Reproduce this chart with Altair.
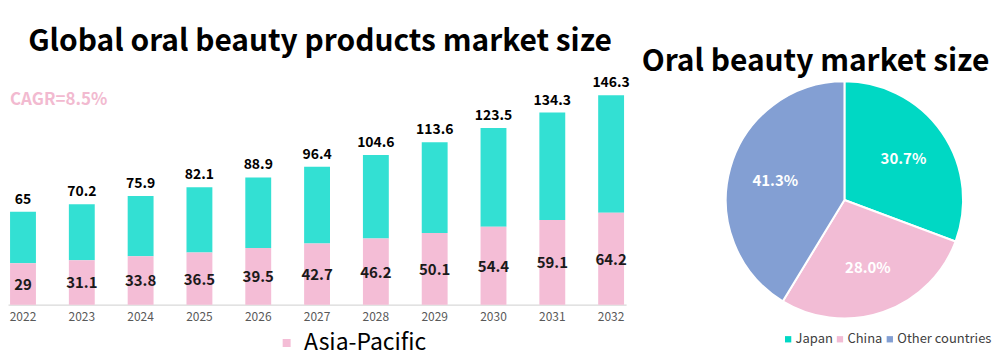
import altair as alt
import pandas as pd

years = ["2022", "2023", "2024", "2025", "2026", "2027", "2028", "2029", "2030", "2031", "2032"]
totals = [65, 70.2, 75.9, 82.1, 88.9, 96.4, 104.6, 113.6, 123.5, 134.3, 146.3]
asia = [29, 31.1, 33.8, 36.5, 39.5, 42.7, 46.2, 50.1, 54.4, 59.1, 64.2]
total_labels = ["65", "70.2", "75.9", "82.1", "88.9", "96.4", "104.6", "113.6", "123.5", "134.3", "146.3"]
asia_labels = ["29", "31.1", "33.8", "36.5", "39.5", "42.7", "46.2", "50.1", "54.4", "59.1", "64.2"]

regions = ["Japan", "China", "Other countries"]
shares = [30.7, 28.0, 41.3]
share_labels = ["30.7%", "28.0%", "41.3%"]

bar_title = "Global oral beauty products market size"
pie_title = "Oral beauty market size"
cagr_text = "CAGR=8.5%"

FONT = "Noto Sans CJK SC"
TEAL = "#33E0D3"
PINK = "#F4BDD6"
PIE_COLORS = ["#00D8C4", "#F2BCD5", "#839FD3"]

bars = pd.DataFrame({
    "year": years, "total": totals, "asia": asia,
    "tl": total_labels, "al": asia_labels,
    "mid": [a / 2 for a in asia], "series": ["Asia-Pacific"] * len(years),
})
pie = pd.DataFrame({"region": regions, "value": shares, "lab": share_labels, "idx": [0, 1, 2]})

xs = alt.X("year:N", title=None,
           scale=alt.Scale(range=[0, 620], paddingInner=0.56, paddingOuter=0.035),
           axis=alt.Axis(labelAngle=0, ticks=False, labelFontSize=12, labelColor="#595959",
                         labelFont=FONT, labelPadding=7, domainColor="#D9D9D9", domainWidth=1.5))
yscale = alt.Scale(domain=[0, 207])

teal = alt.Chart(bars).mark_bar(color=TEAL).encode(
    x=xs, y=alt.Y("total:Q", scale=yscale, axis=None), y2="asia:Q")
pink = alt.Chart(bars).mark_bar().encode(
    x=xs, y=alt.Y("asia:Q", scale=yscale, axis=None),
    color=alt.Color("series:N", scale=alt.Scale(range=[PINK]),
                    legend=alt.Legend(orient="none", legendX=268, legendY=324, title=None,
                                      direction="horizontal", symbolType="square", symbolSize=64,
                                      labelFontSize=23, labelFont=FONT, labelColor="#000000",
                                      labelOffset=6, symbolStrokeWidth=0, padding=0)))
top_txt = alt.Chart(bars).mark_text(baseline="bottom", dy=-5, fontSize=14, fontWeight="bold",
                                    font=FONT, color="#000000").encode(
    x=xs, y=alt.Y("total:Q", scale=yscale), text="tl:N")
mid_txt = alt.Chart(bars).mark_text(baseline="middle", dy=1, fontSize=15, fontWeight="bold",
                                    font=FONT, color="#1a1a1a").encode(
    x=xs, y=alt.Y("mid:Q", scale=yscale), text="al:N")

ann = pd.DataFrame({"t": [bar_title]})
t1 = alt.Chart(ann).mark_text(fontSize=30, fontWeight="bold", font=FONT, color="#000000",
                              align="center", baseline="middle").encode(
    x=alt.value(313), y=alt.value(34), text="t:N")
ann2 = pd.DataFrame({"t": [pie_title]})
t2 = alt.Chart(ann2).mark_text(fontSize=30, fontWeight="bold", font=FONT, color="#000000",
                               align="center", baseline="middle").encode(
    x=alt.value(810), y=alt.value(54), text="t:N")
ann3 = pd.DataFrame({"t": [cagr_text]})
t3 = alt.Chart(ann3).mark_text(fontSize=17, fontWeight="bold", font=FONT, color="#F2BAD0",
                               align="left", baseline="middle").encode(
    x=alt.value(2), y=alt.value(92), text="t:N")

arcs = alt.Chart(pie).mark_arc(outerRadius=119, stroke="white", strokeWidth=2).encode(
    theta=alt.Theta("value:Q", stack=True),
    order=alt.Order("idx:Q"),
    x=alt.value(839), y=alt.value(192),
    color=alt.Color("region:N", sort=regions,
                    scale=alt.Scale(domain=regions, range=PIE_COLORS),
                    legend=alt.Legend(orient="none", legendX=776, legendY=325, title=None,
                                      direction="horizontal", symbolType="square", symbolSize=40,
                                      labelFontSize=13, labelFont=FONT, labelColor="#404040",
                                      columnPadding=0, labelOffset=1, symbolStrokeWidth=0,
                                      padding=0)))
pie_txt = alt.Chart(pie).mark_text(radius=72, fontSize=15, fontWeight="bold", font=FONT,
                                   color="white").encode(
    theta=alt.Theta("value:Q", stack=True),
    order=alt.Order("idx:Q"),
    x=alt.value(839), y=alt.value(192),
    text="lab:N")

chart = alt.layer(teal, pink, top_txt, mid_txt, t1, t2, t3, arcs, pie_txt).resolve_scale(
    color="independent"
).properties(width=984, height=297, padding=0).configure_view(stroke=None)

chart.save("out.html", embed_options={"renderer": "svg", "actions": False})
